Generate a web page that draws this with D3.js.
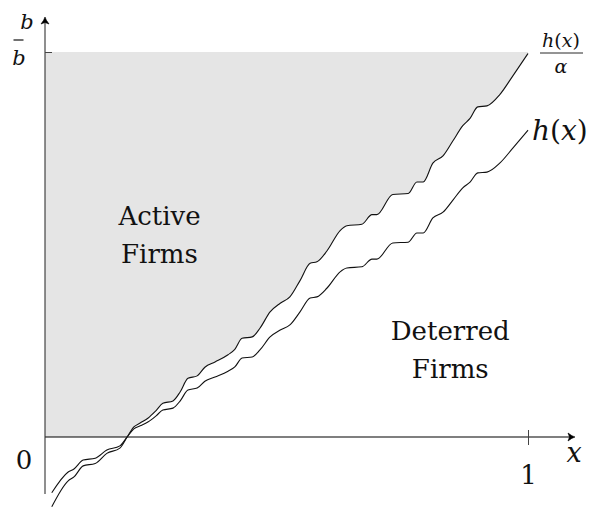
<!DOCTYPE html>
<html>
<head>
<meta charset="utf-8">
<script src="https://cdn.jsdelivr.net/npm/d3@7"></script>
<style>
  body { margin: 0; background: #fff; }
  text { font-family: "DejaVu Serif", "Liberation Serif", serif; fill: #111; }
</style>
</head>
<body>
<script>
// SVG area
var svgWidth = 591;
var svgHeight = 511;
var serif = "'DejaVu Serif', 'Liberation Serif', serif";

var xVals = [0.014, 0.048, 0.060, 0.079, 0.104, 0.128, 0.155, 0.170, 0.184, 0.197,
  0.213, 0.230, 0.244, 0.265, 0.280, 0.296, 0.315, 0.331, 0.352, 0.379,
  0.393, 0.408, 0.429, 0.445, 0.466, 0.487, 0.507, 0.528, 0.549, 0.563,
  0.584, 0.611, 0.625, 0.656, 0.677, 0.687, 0.720, 0.752, 0.770, 0.783,
  0.803, 0.824, 0.845, 0.865, 0.880, 0.896, 0.915, 0.942, 0.969, 1.000];
var hVals = [-0.145, -0.091, -0.083, -0.060, -0.055, -0.034, -0.023, 0.000, 0.021, 0.029,
  0.039, 0.055, 0.070, 0.075, 0.094, 0.122, 0.127, 0.145, 0.156, 0.171,
  0.182, 0.205, 0.208, 0.226, 0.260, 0.278, 0.291, 0.325, 0.361, 0.364,
  0.387, 0.429, 0.439, 0.442, 0.462, 0.462, 0.504, 0.506, 0.530, 0.530,
  0.569, 0.584, 0.616, 0.647, 0.662, 0.686, 0.688, 0.712, 0.751, 0.797];
var alpha = 0.8;
var bBar = 1;
var xCross = 0.170; // where h(x) = 0

var xTickVals = [1];
var xTickLabels = ["1"];
var regionLabels = [
  { lines: ["Active", "Firms"], x: 0.237, b: 0.551 },
  { lines: ["Deterred", "Firms"], x: 0.839, b: 0.252 }
];

var svg = d3.select("body")
  .append("svg")
  .attr("width", svgWidth)
  .attr("height", svgHeight);

var xScale = d3.scaleLinear().domain([0, 1]).range([45, 528]);
var yScale = d3.scaleLinear().domain([0, bBar]).range([437, 52]);

var pts = xVals.map(function(x, i) {
  return { x: x, h: hVals[i], ha: hVals[i] / alpha };
});

// clip to the upper half plane under b-bar
svg.append("clipPath")
  .attr("id", "upper")
  .append("rect")
  .attr("x", xScale(0))
  .attr("y", yScale(bBar))
  .attr("width", xScale(1) - xScale(0))
  .attr("height", yScale(0) - yScale(bBar));

var fillCol = "#e5e5e5";

// shaded region: active firms
svg.append("rect")
  .attr("x", xScale(0))
  .attr("y", yScale(bBar))
  .attr("width", xScale(xCross) - xScale(0))
  .attr("height", yScale(0) - yScale(bBar))
  .attr("fill", fillCol);

svg.append("path")
  .datum(pts)
  .attr("clip-path", "url(#upper)")
  .attr("fill", fillCol)
  .attr("d", d3.area()
    .curve(d3.curveMonotoneX)
    .x(d => xScale(d.x))
    .y0(d => yScale(d.ha))
    .y1(yScale(bBar)));

// axes
function arrowHead(g, x, y, rot) {
  g.append("path")
    .attr("transform", `translate(${x},${y}) rotate(${rot})`)
    .attr("d", "M-7,-4 Q-3,-0.8 0,0 Q-3,0.8 -7,4 L-5.5,0 Z")
    .attr("fill", "#000")
    .attr("stroke", "#000")
    .attr("stroke-width", 0.6)
    .attr("stroke-linejoin", "round");
}

var axes = svg.append("g");
axes.append("line")
  .attr("x1", xScale(0)).attr("x2", 573)
  .attr("y1", yScale(0)).attr("y2", yScale(0))
  .attr("stroke", "#000").attr("stroke-width", 1.1);
axes.append("line")
  .attr("x1", xScale(0)).attr("x2", xScale(0))
  .attr("y1", 494).attr("y2", 19)
  .attr("stroke", "#333").attr("stroke-width", 1.1);
arrowHead(axes, 575, yScale(0), 0);
arrowHead(axes, xScale(0), 17, -90);

// x tick at 1 using d3 axis
var xAxis = d3.axisBottom(xScale)
  .tickValues(xTickVals)
  .tickFormat((d, i) => xTickLabels[i])
  .tickSize(8)
  .tickPadding(14);
var gx = svg.append("g")
  .attr("transform", `translate(0, ${yScale(0)})`)
  .call(xAxis);
gx.attr("font-family", serif);
gx.select(".domain").remove();
gx.selectAll(".tick line").attr("y1", -7).attr("stroke", "#444").attr("stroke-width", 1);
gx.selectAll(".tick text")
  .attr("font-size", 26)
  .attr("fill", "#111")
  .attr("dy", "0.95em");

// b-bar tick
var yAxis = d3.axisLeft(yScale)
  .tickValues([bBar])
  .tickFormat("")
  .tickSize(7);
var gy = svg.append("g")
  .attr("transform", `translate(${xScale(0)}, 0)`)
  .call(yAxis);
gy.select(".domain").remove();
gy.selectAll(".tick line").attr("x2", 7).attr("stroke", "#444").attr("stroke-width", 1);

// b-bar label
svg.append("text")
  .attr("x", 19).attr("y", 65)
  .attr("text-anchor", "middle")
  .attr("font-size", 21).attr("font-style", "italic")
  .text("b");
svg.append("line")
  .attr("x1", 13.5).attr("x2", 23.5)
  .attr("y1", 40).attr("y2", 40)
  .attr("stroke", "#111").attr("stroke-width", 1.2);

// axis names
svg.append("text")
  .attr("x", 27).attr("y", 29)
  .attr("text-anchor", "middle")
  .attr("font-size", 21).attr("font-style", "italic")
  .text("b");
svg.append("text")
  .attr("x", 574).attr("y", 462)
  .attr("text-anchor", "middle")
  .attr("font-size", 27).attr("font-style", "italic")
  .text("x");
svg.append("text")
  .attr("x", 24).attr("y", 469)
  .attr("text-anchor", "middle")
  .attr("font-size", 26)
  .text("0");

// curves
var line = d3.line().curve(d3.curveMonotoneX).x(d => xScale(d.x));
svg.append("path")
  .datum(pts)
  .attr("fill", "none").attr("stroke", "#111").attr("stroke-width", 1.1)
  .attr("d", line.y(d => yScale(d.h)));
svg.append("path")
  .datum(pts)
  .attr("fill", "none").attr("stroke", "#111").attr("stroke-width", 1.1)
  .attr("d", line.y(d => yScale(d.ha)));

// curve labels
var hl = svg.append("text")
  .attr("x", 532).attr("y", 140)
  .attr("font-size", 28);
hl.append("tspan").attr("font-style", "italic").text("h");
hl.append("tspan").text("(");
hl.append("tspan").attr("font-style", "italic").text("x");
hl.append("tspan").text(")");

var fr = svg.append("text")
  .attr("x", 561).attr("y", 47)
  .attr("text-anchor", "middle")
  .attr("font-size", 19);
fr.append("tspan").attr("font-style", "italic").text("h");
fr.append("tspan").text("(");
fr.append("tspan").attr("font-style", "italic").text("x");
fr.append("tspan").text(")");
svg.append("line")
  .attr("x1", 540).attr("x2", 583)
  .attr("y1", 53).attr("y2", 53)
  .attr("stroke", "#111").attr("stroke-width", 0.9);
svg.append("text")
  .attr("x", 561).attr("y", 73)
  .attr("text-anchor", "middle")
  .attr("font-size", 19).attr("font-style", "italic")
  .text("α");

// region labels
regionLabels.forEach(function(r) {
  r.lines.forEach(function(s, i) {
    svg.append("text")
      .attr("x", xScale(r.x))
      .attr("y", yScale(r.b) + i * 38)
      .attr("text-anchor", "middle")
      .attr("font-size", 26)
      .attr("fill", "#222")
      .text(s);
  });
});
</script>
</body>
</html>
